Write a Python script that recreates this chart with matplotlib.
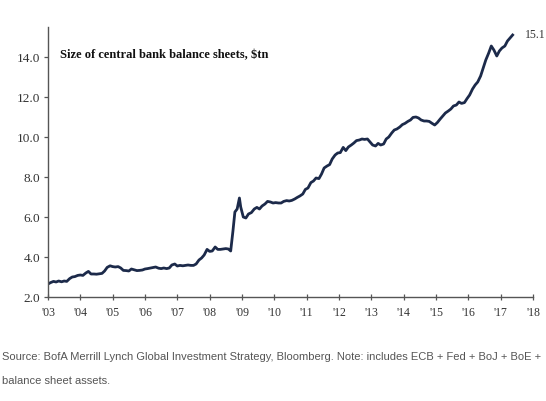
import matplotlib
matplotlib.use("Agg")
import matplotlib.pyplot as plt

# Combined central bank balance sheets, $tn (decimal year, value)
years = [
    2003.00, 2003.08, 2003.17, 2003.25, 2003.33, 2003.42, 2003.50, 2003.58, 2003.67, 2003.75, 2003.83, 2003.92,
    2004.00, 2004.08, 2004.17, 2004.25, 2004.33, 2004.42, 2004.50, 2004.58, 2004.67, 2004.75, 2004.83, 2004.92,
    2005.00, 2005.08, 2005.17, 2005.25, 2005.33, 2005.42, 2005.50, 2005.58, 2005.67, 2005.75, 2005.83, 2005.92,
    2006.00, 2006.08, 2006.17, 2006.25, 2006.33, 2006.42, 2006.50, 2006.58, 2006.67, 2006.75, 2006.83, 2006.92,
    2007.00, 2007.08, 2007.17, 2007.25, 2007.33, 2007.42, 2007.50, 2007.58, 2007.67, 2007.75, 2007.83, 2007.92,
    2008.00, 2008.08, 2008.17, 2008.25, 2008.33, 2008.42, 2008.50, 2008.58, 2008.65, 2008.72, 2008.78, 2008.85,
    2008.92, 2008.96, 2009.04, 2009.12, 2009.20, 2009.29, 2009.38, 2009.46, 2009.54, 2009.62, 2009.71, 2009.79,
    2009.88, 2009.96, 2010.04, 2010.13, 2010.21, 2010.29, 2010.38, 2010.46, 2010.54, 2010.63, 2010.71, 2010.79,
    2010.88, 2010.96, 2011.04, 2011.13, 2011.21, 2011.29, 2011.38, 2011.46, 2011.54, 2011.63, 2011.71, 2011.79,
    2011.88, 2011.96, 2012.04, 2012.13, 2012.21, 2012.29, 2012.38, 2012.46, 2012.54, 2012.63, 2012.71, 2012.79,
    2012.88, 2012.96, 2013.04, 2013.13, 2013.21, 2013.29, 2013.38, 2013.46, 2013.54, 2013.63, 2013.71, 2013.79,
    2013.88, 2013.96, 2014.04, 2014.13, 2014.21, 2014.29, 2014.38, 2014.46, 2014.54, 2014.63, 2014.71, 2014.79,
    2014.88, 2014.96, 2015.04, 2015.13, 2015.21, 2015.29, 2015.38, 2015.46, 2015.54, 2015.63, 2015.71, 2015.79,
    2015.88, 2015.96, 2016.04, 2016.13, 2016.21, 2016.29, 2016.38, 2016.46, 2016.54, 2016.63, 2016.71, 2016.79,
    2016.88, 2016.96, 2017.04, 2017.13, 2017.21, 2017.29, 2017.37,
]
balance = [
    2.65, 2.72, 2.78, 2.75, 2.80, 2.76, 2.80, 2.78, 2.92, 3.00, 3.02, 3.08,
    3.10, 3.08, 3.20, 3.28, 3.15, 3.15, 3.14, 3.16, 3.18, 3.30, 3.48, 3.56,
    3.52, 3.50, 3.52, 3.45, 3.33, 3.32, 3.30, 3.40, 3.36, 3.32, 3.33, 3.35,
    3.40, 3.42, 3.45, 3.48, 3.50, 3.44, 3.42, 3.45, 3.42, 3.45, 3.60, 3.65,
    3.55, 3.58, 3.56, 3.58, 3.60, 3.58, 3.58, 3.65, 3.85, 3.95, 4.10, 4.38,
    4.28, 4.30, 4.50, 4.38, 4.38, 4.40, 4.42, 4.40, 4.30, 5.30, 6.25, 6.40,
    6.95, 6.50, 6.00, 5.95, 6.15, 6.22, 6.40, 6.48, 6.40, 6.55, 6.65, 6.78,
    6.75, 6.70, 6.72, 6.70, 6.70, 6.78, 6.82, 6.80, 6.83, 6.90, 6.98, 7.05,
    7.15, 7.38, 7.45, 7.72, 7.80, 7.95, 7.92, 8.15, 8.45, 8.55, 8.62, 8.90,
    9.10, 9.20, 9.22, 9.48, 9.32, 9.50, 9.60, 9.70, 9.82, 9.85, 9.90, 9.88,
    9.90, 9.75, 9.60, 9.55, 9.68, 9.60, 9.65, 9.90, 10.00, 10.20, 10.35, 10.40,
    10.50, 10.62, 10.68, 10.78, 10.85, 10.98, 11.00, 10.95, 10.85, 10.80, 10.80, 10.78,
    10.68, 10.60, 10.72, 10.90, 11.05, 11.20, 11.30, 11.40, 11.55, 11.60, 11.75, 11.68,
    11.72, 11.92, 12.10, 12.40, 12.60, 12.75, 13.05, 13.45, 13.85, 14.20, 14.55, 14.35,
    14.05, 14.30, 14.45, 14.55, 14.80, 14.95, 15.10,
]

x_ticks = list(range(2003, 2019))
x_tick_labels = ["'%02d" % (y % 100) for y in x_ticks]
y_ticks = [2.0, 4.0, 6.0, 8.0, 10.0, 12.0, 14.0]
y_tick_labels = ["%.1f" % v for v in y_ticks]

title = "Size of central bank balance sheets, \\$tn"
end_label = "15.1"
source_lines = [
    "Source: BofA Merrill Lynch Global Investment Strategy, Bloomberg. Note: includes ECB + Fed + BoJ + BoE +",
    "balance sheet assets.",
]

line_color = "#1c2a4a"
serif = ["Liberation Serif", "DejaVu Serif"]
sans = ["Liberation Sans", "DejaVu Sans"]

fig = plt.figure(figsize=(5.46, 4.02), dpi=100)
ax = fig.add_axes([48 / 546, 1 - 298 / 402, (533 - 48) / 546, (298 - 28) / 402])

ax.plot(years, balance, color=line_color, lw=2.0, solid_joinstyle="round")

ax.set_xlim(2003, 2018)
ax.set_ylim(2.0, 15.5)
ax.set_xticks(x_ticks)
ax.set_xticklabels(x_tick_labels, fontfamily=serif, fontsize=8.5, color="#333333")
ax.set_yticks(y_ticks)
ax.set_yticklabels(y_tick_labels, fontfamily=serif, fontsize=9.5, color="#333333")
ax.tick_params(axis="both", length=3, width=0.9, color="#555555", pad=2.5)
ax.tick_params(axis="x", direction="inout", length=5, pad=4)

for side in ("top", "right"):
    ax.spines[side].set_visible(False)
for side in ("left", "bottom"):
    ax.spines[side].set_color("#555555")
    ax.spines[side].set_linewidth(1.0)

ax.text(0.025, 0.9, title, transform=ax.transAxes, fontfamily=serif,
        fontsize=9, fontweight="bold", color="#111111", va="center", ha="left")

ax.annotate(end_label, xy=(years[-1], balance[-1]), xytext=(9, 1),
            textcoords="offset points", fontfamily=serif, fontsize=8.5,
            color="#333333", va="center", ha="left", annotation_clip=False)

fig.text(2 / 546, 1 - 357 / 402, source_lines[0], fontfamily=sans,
         fontsize=8.0, color="#555555", va="center", ha="left")
fig.text(2 / 546, 1 - 381 / 402, source_lines[1], fontfamily=sans,
         fontsize=8.0, color="#555555", va="center", ha="left")

fig.savefig("out.png", dpi=100, facecolor="white")
